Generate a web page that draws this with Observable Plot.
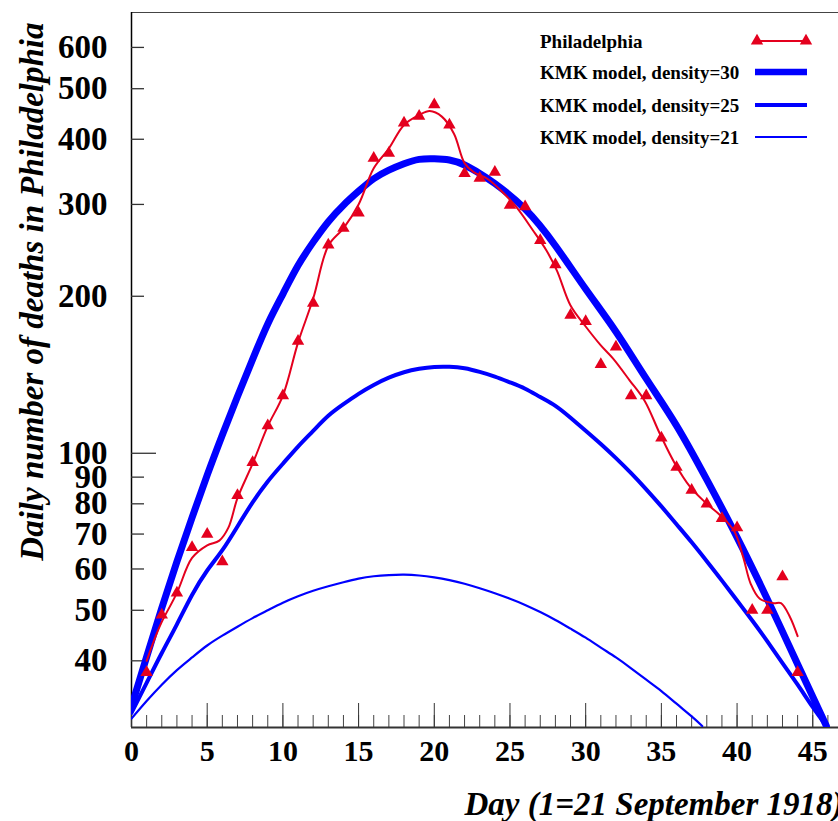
<!DOCTYPE html>
<html>
<head>
<meta charset="utf-8">
<script src="https://cdn.jsdelivr.net/npm/d3@7"></script>
<script src="https://cdn.jsdelivr.net/npm/@observablehq/plot@0.6"></script>
<style>
  body { margin: 0; background: #fff; }
  #wrap { position: relative; width: 838px; height: 821px; overflow: hidden; }
</style>
</head>
<body>
<div id="wrap"></div>
<script>
// ---- Data ----
const phillyDays = [1,2,3,4,5,6,7,8,9,10,11,12,13,14,15,16,17,18,19,20,21,22,23,24,25,26,27,28,29,30,31,32,33,34,35,36,37,38,39,40,41,42,43,44];
const phillyDeaths = [38,49,54,66,70,62,83,96,113,129,164,194,251,270,289,368,376,430,443,466,426,344,337,346,299,297,256,230,184,179,148,160,129,129,107,94,85,80,75,72,50,50,58,38];

// smoothed Philadelphia curve as drawn in the reference
const smoothDays = [1,1.65,2,3,4,5,5.8,6.4,7,8,9,10,11,12,13,14,15,16,17,18,19,19.7,20.5,21.3,22,22.6,23.5,24.4,25.4,26.5,27.4,28.1,29,30,31,31.8,32.9,33.9,34.9,35.9,36.9,38,38.9,39.8,40.4,40.9,41.5,42.4,42.9,43.5,44];
const smoothDeaths = [40,45,47.5,54,63,66.6,68,72,82,95.5,112.7,129,163,198,250,270,300,352,384,426,445,453,442,410,360,346,336,319,297,268,245,224,192,175,161,152,138,126,109,95.5,86.2,80,76,71,63.3,56.2,52.6,51.6,51.6,48.5,44.6];

// KMK model, density=30
const model30Days = [0,1,2,3,4,5,6,7,8,9,10,11,12,13,14,15,16,17,18,19,20,21,22,23,24,26,28,30,32,34,36,38,40,42,44,45.9];
const model30 = [32.7,40.7,50.5,62,75.3,90.8,108.4,128.5,151.4,177,202,229,254,278,299,318,336,349,359,366,367,365,357,344,329,294,250,206.5,171,139,113,89,69,52.5,39.4,30];

// KMK model, density=25
const model25Days = [0,1,2,3,4,5,6,7,8,9,10,11,12,13,14,15,16,17,18,19,20,21,22,23,24,25,26,27,28,29,30,31,32,33,34,35,36,37,38,39,40,41,42,43,44,45,45.9];
const model25 = [31.8,36.3,41.4,47,53.5,59.6,65.2,72.4,80.5,88.3,95.5,103,110.4,118,124.2,130,135.2,139.6,143,145.2,146.4,146.5,145.5,143.2,140.3,136.8,133,128.2,123.3,117,110.5,104.2,97.9,91.6,85.3,79.1,73.1,67.5,62.1,57,52.2,47.8,43.6,39.6,36,32.6,30];

// KMK model, density=21
const model21Days = [0,1,2,3,4,5,6,7,8,9,10,11,12,13,14,15,16,17,18,19,20,21,22,23,24,25,26,27,28,29,30,31,32,33,34,35,36,37,37.7];
const model21 = [31,33.5,36,38.4,40.6,42.8,44.7,46.5,48.3,50,51.7,53.2,54.5,55.6,56.6,57.5,58.1,58.4,58.5,58.3,57.8,57.1,56.2,55.1,53.9,52.6,51.2,49.6,47.9,46.1,44.3,42.4,40.6,38.7,36.8,35,33.1,31.3,30];

// axes
const yTickValues = [40,50,60,70,80,90,100,200,300,400,500,600];
const xTickValues = [0,5,10,15,20,25,30,35,40,45];
const xMinorValues = [0,1,2,3,4,5,6,7,8,9,10,11,12,13,14,15,16,17,18,19,20,21,22,23,24,25,26,27,28,29,30,31,32,33,34,35,36,37,38,39,40,41,42,43,44,45,46];

const legendLabels = ["Philadelphia","KMK model, density=30","KMK model, density=25","KMK model, density=21"];
const yTitle = "Daily number of deaths in Philadelphia";
const xTitle = "Day (1=21 September 1918)";

// ---- build ----
const RED = "#e4001e", BLUE = "#0000ff";
const W = 838, H = 821, mL = 131, mT = 12, mB = 94, mR = 0;
const plotW = W - mL - mR, plotH = H - mT - mB;
const zip = (xs, ys) => xs.map((x, i) => ({x, y: ys[i]}));

const serif = "'Liberation Serif', 'Times New Roman', serif";

const chart = Plot.plot({
  width: W, height: H,
  marginLeft: mL, marginTop: mT, marginBottom: mB, marginRight: mR,
  x: {domain: [0, 46.7]},
  y: {type: "log", domain: [29.8, 700]},
  style: {fontFamily: serif, background: "white", color: "black", overflow: "visible"},
  marks: [
    // frame lines
    Plot.ruleY([700], {stroke: "#444", strokeWidth: 1}),
    Plot.ruleX([0], {stroke: "black", strokeWidth: 1.5}),
    // y ticks (inside)
    Plot.ruleY(yTickValues.filter(d => d !== 100), {y: d => d, insetRight: plotW - 13, stroke: "#333", strokeWidth: 1.3}),
    Plot.ruleY([100], {y: d => d, insetRight: plotW - 25, stroke: "#333", strokeWidth: 1.3}),
    // x ticks (inside)
    Plot.ruleX(xMinorValues, {x: d => d, insetTop: plotH - 12, stroke: "#444", strokeWidth: 1}),
    Plot.ruleX(xTickValues, {x: d => d, insetTop: plotH - 24, stroke: "#333", strokeWidth: 1}),
    Plot.ruleY([29.8], {stroke: "#333", strokeWidth: 2}),
    // tick labels
    Plot.axisY(yTickValues, {tickSize: 0, tickPadding: 24, fontSize: 33, fontWeight: "bold", tickFormat: d => String(d), label: null}),
    Plot.axisX(xTickValues, {tickSize: 0, tickPadding: 12, fontSize: 30, fontWeight: "bold", tickFormat: d => String(d), label: null}),
    // model curves
    Plot.line(zip(model21Days, model21), {x: "x", y: "y", stroke: BLUE, strokeWidth: 2.2, curve: "natural", clip: true}),
    Plot.line(zip(model25Days, model25), {x: "x", y: "y", stroke: BLUE, strokeWidth: 4, curve: "natural", clip: true}),
    Plot.line(zip(model30Days, model30), {x: "x", y: "y", stroke: BLUE, strokeWidth: 7, curve: "natural", clip: true}),
    // Philadelphia
    Plot.line(zip(smoothDays, smoothDeaths), {x: "x", y: "y", stroke: RED, strokeWidth: 2, curve: "catmull-rom"}),
    Plot.dot(zip(phillyDays, phillyDeaths), {x: "x", y: "y", symbol: "triangle", r: 4.6, fill: RED, stroke: "none"}),
    // axis titles
    Plot.text([yTitle], {frameAnchor: "top-left", rotate: -90, textAnchor: "end", dx: -112, dy: 10,
      fontSize: 33, fontStyle: "italic", fontWeight: "bold", fill: "black"}),
    Plot.text([xTitle], {frameAnchor: "bottom-right", textAnchor: "end", dx: 5, dy: 87,
      fontSize: 33, fontStyle: "italic", fontWeight: "bold", fill: "black"})
  ]
});

document.getElementById("wrap").appendChild(chart);

// ---- legend inside the plot (top right) ----
const svg = d3.select(chart);
const lg = svg.append("g").attr("font-family", serif).attr("font-weight", "bold").attr("font-size", 19)
  .attr("text-anchor", "start").attr("fill", "black");
const rowsY = [41, 72, 105, 137];
const widths = [null, 6.5, 4, 2.2];
legendLabels.forEach((lab, i) => {
  lg.append("text").attr("x", 540).attr("y", rowsY[i]).attr("dy", "0.35em").attr("text-anchor", "start").text(lab);
  if (i === 0) {
    lg.append("line").attr("x1", 757).attr("x2", 806).attr("y1", rowsY[i]).attr("y2", rowsY[i])
      .attr("stroke", RED).attr("stroke-width", 2);
    const tri = d3.symbol(d3.symbolTriangle, 4.6 * 4.6 * Math.PI)();
    [757, 806].forEach(x => lg.append("path").attr("d", tri).attr("transform", `translate(${x},${rowsY[i]})`).attr("fill", RED));
  } else {
    lg.append("line").attr("x1", 755).attr("x2", 807).attr("y1", rowsY[i]).attr("y2", rowsY[i])
      .attr("stroke", BLUE).attr("stroke-width", widths[i]);
  }
});
</script>
</body>
</html>
